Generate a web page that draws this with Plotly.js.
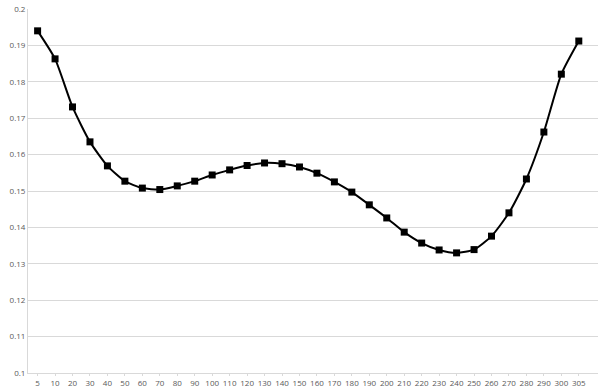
<!DOCTYPE html>
<html>
<head>
<meta charset="utf-8">
<script src="https://cdn.plot.ly/plotly-3.0.1.min.js"></script>
<style>html,body{margin:0;padding:0;background:#fff;}#chart{width:602px;height:390px;}</style>
</head>
<body>
<div id="chart"></div>
<script>
const categories = ["5","10","20","30","40","50","60","70","80","90","100","110","120","130","140","150","160","170","180","190","200","210","220","230","240","250","260","270","280","290","300","305"];
const values = [0.1940,0.1863,0.1731,0.1635,0.1569,0.1527,0.1508,0.1504,0.1514,0.1527,0.1544,0.1558,0.1570,0.1577,0.1575,0.1566,0.1549,0.1525,0.1497,0.1462,0.1426,0.1387,0.1357,0.1338,0.1330,0.1339,0.1376,0.1440,0.1533,0.1662,0.1821,0.1912];
const yTickVals = [0.1,0.11,0.12,0.13,0.14,0.15,0.16,0.17,0.18,0.19,0.2];
const yTickText = ["0.1","0.11","0.12","0.13","0.14","0.15","0.16","0.17","0.18","0.19","0.2"];

const trace = {
  x: categories,
  y: values,
  type: 'scatter',
  mode: 'lines+markers',
  line: {color: '#000000', width: 2, shape: 'spline', smoothing: 0.6},
  marker: {symbol: 'square', size: 7, color: '#000000'},
  hoverinfo: 'x+y'
};

const layout = {
  width: 602, height: 390,
  margin: {l: 28, r: 4, t: 9, b: 17},
  paper_bgcolor: '#ffffff', plot_bgcolor: '#ffffff',
  showlegend: false,
  font: {family: '"Open Sans", Lato, sans-serif', size: 8, color: '#595959'},
  xaxis: {
    type: 'category',
    categoryorder: 'array', categoryarray: categories,
    range: [-0.55, 32.1],
    showgrid: false,
    showline: true, linecolor: '#d9d9d9', linewidth: 1,
    ticks: 'outside', ticklen: 2, tickcolor: '#d9d9d9',
    tickangle: 0,
    tickfont: {size: 8, color: '#595959'},
    zeroline: false
  },
  yaxis: {
    range: [0.1, 0.2],
    tickvals: yTickVals, ticktext: yTickText,
    showgrid: true, gridcolor: '#d9d9d9', gridwidth: 1,
    showline: true, linecolor: '#d9d9d9', linewidth: 1,
    ticks: '', ticklen: 0,
    tickfont: {size: 8, color: '#595959'},
    zeroline: false
  }
};

Plotly.newPlot('chart', [trace], layout, {staticPlot: true, displayModeBar: false});
</script>
</body>
</html>
